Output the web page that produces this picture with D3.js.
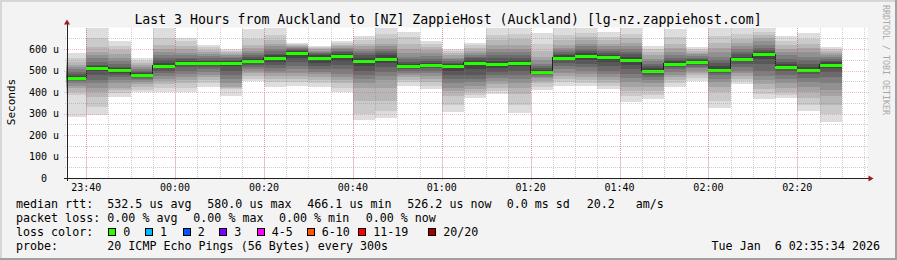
<!DOCTYPE html>
<html lang="en">
<head>
<meta charset="utf-8">
<title>SmokePing lg-nz.zappiehost.com</title>
<script src="https://cdn.jsdelivr.net/npm/d3@7"></script>
<style>
  body { margin: 0; background: #f3f3f3; }
  svg { display: block; font-family: "DejaVu Sans Mono", monospace; }
  text { white-space: pre; fill: #000; }
</style>
</head>
<body>
<div id="chart"></div>
<script>
// start time of each 5 min step
var times = ["23:35","23:40","23:45","23:50","23:55",
  "00:00","00:05","00:10","00:15","00:20","00:25","00:30","00:35","00:40","00:45","00:50","00:55",
  "01:00","01:05","01:10","01:15","01:20","01:25","01:30","01:35","01:40","01:45","01:50","01:55",
  "02:00","02:05","02:10","02:15","02:20","02:25"];

// median rtt in microseconds
var medians = [466,513,502,480,522,536,536,535,546,558,580,560,566,546,555,519,527,520,536,531,
  536,493,560,569,561,550,498,531,541,502,555,575,518,504,526];

// lost pings (of 20) per step
var losses = [0,0,0,0,0,0,0,0,0,0,0,0,0,0,0,0,0,0,0,0,0,0,0,0,0,0,0,0,0,0,0,0,0,0,0];

// 20 sorted ping times (us) per step
var pings = [
  [285,386,400,417,430,440,450,458,462,465,467,475,485,495,505,515,525,541,557,583],
  [293,330,378,400,417,440,456,480,500,510,516,522,526,540,557,570,587,611,650,699],
  [378,395,410,420,440,455,470,480,490,500,504,510,518,530,545,560,575,595,615,639],
  [399,410,425,435,445,455,462,470,475,479,482,487,493,500,508,515,525,535,545,560],
  [401,420,435,450,462,475,488,500,510,518,525,535,548,560,570,585,600,620,650,699],
  [401,420,440,455,470,485,500,515,525,533,538,545,552,560,570,582,600,615,635,653],
  [422,440,455,468,480,492,505,518,527,534,538,544,550,558,566,575,585,595,607,619],
  [383,414,418,425,440,460,480,500,520,532,538,543,550,557,563,570,578,585,592,600],
  [450,462,475,487,497,507,517,527,535,543,549,555,562,570,580,592,605,620,645,693],
  [422,445,460,475,488,500,512,525,540,553,563,570,578,590,600,612,625,640,665,698],
  [428,445,460,475,490,505,520,540,560,578,586,592,597,601,605,610,615,620,625,628],
  [422,440,455,470,483,495,507,520,535,550,565,572,578,583,588,593,598,603,608,613],
  [399,420,440,455,468,485,505,525,545,560,570,578,585,592,598,605,612,620,630,639],
  [270,300,360,420,440,460,480,500,520,540,550,560,570,580,590,600,612,625,640,661],
  [278,310,360,420,455,475,495,515,535,550,560,570,580,590,600,612,625,645,670,698],
  [428,445,458,470,480,490,500,508,514,519,523,530,540,552,565,580,600,625,655,681],
  [414,430,445,460,475,488,500,510,518,524,530,537,545,555,567,580,595,610,625,639],
  [306,340,380,405,420,440,460,480,500,515,522,530,537,545,553,560,570,580,590,598],
  [370,385,400,415,430,445,462,480,505,528,540,550,558,565,573,582,592,605,617,630],
  [392,405,420,435,450,465,480,495,512,527,535,545,557,570,585,600,620,640,665,698],
  [302,340,390,420,440,460,480,500,520,533,540,550,560,572,585,600,620,645,670,698],
  [410,425,440,452,463,472,480,486,490,493,496,502,510,520,532,548,565,590,625,675],
  [428,445,460,475,490,505,520,535,548,557,563,570,578,585,595,605,620,640,665,698],
  [428,442,455,470,485,500,515,530,550,565,572,580,590,600,612,625,640,655,675,698],
  [413,428,442,455,468,482,500,520,540,555,565,572,580,590,600,612,625,640,658,677],
  [355,380,405,425,445,465,485,505,525,545,555,565,575,587,600,615,630,650,672,698],
  [367,385,405,425,440,455,468,480,490,497,502,510,520,530,542,555,570,585,600,613],
  [425,440,455,468,480,492,505,515,523,529,535,542,550,560,572,588,605,625,655,692],
  [452,465,478,490,500,510,518,526,532,538,543,548,553,560,567,575,583,592,600,608],
  [324,360,400,425,445,462,478,490,498,502,508,520,535,550,565,585,605,630,660,698],
  [437,450,462,475,488,500,515,530,543,553,558,565,575,585,598,612,628,645,668,698],
  [367,390,415,435,455,475,500,530,555,572,578,585,595,605,620,635,650,665,680,698],
  [372,385,400,420,440,460,480,497,510,516,520,528,540,555,570,585,600,618,638,661],
  [312,340,370,400,425,445,465,485,497,503,506,515,530,548,565,585,605,625,648,673],
  [260,300,340,380,410,440,470,495,512,524,530,538,545,553,562,572,582,592,600,610]
];

var yMajor = [0,100,200,300,400,500,600];
var yMinor = [50,150,250,350,450,550,650];
var xLabels = ["23:40","00:00","00:20","00:40","01:00","01:20","01:40","02:00","02:20"];

var lossLabels = ["0","1","2","3","4-5","6-10","11-19","20/20"];
var lossColors = ["#26ff00","#00b8ff","#0059ff","#7e00ff","#ff00ff","#ff5500","#ff0000","#a10000"];
var lossLimits = [0,1,2,3,5,10,19,20];

var title = "Last 3 Hours from Auckland to [NZ] ZappieHost (Auckland) [lg-nz.zappiehost.com]";
var statsRtt = [["median rtt:", 16], ["532.5 us avg", 107.3], ["580.0 us max", 207.3],
  ["466.1 us min", 307.3], ["526.2 us now", 407.3], ["0.0 ms sd", 506.7], ["20.2   am/s", 586.7]];
var statsLoss = [["packet loss:", 16], ["0.00 % avg", 107.3], ["0.00 % max", 193.3],
  ["0.00 % min", 279], ["0.00 % now", 365.7]];
var lossBoxX = [108.3, 145, 182.7, 219.3, 256.7, 306.7, 358.3, 428.3];

var W = 897, H = 260;
var pLeft = 66.5, pRight = 866.5, pTop = 27.5, pBottom = 178;

function toDate(s) {
  var h = +s.slice(0, 2), m = +s.slice(3, 5);
  return new Date(Date.UTC(2026, 0, h >= 12 ? 5 : 6, h, m));
}
var tStart = new Date(Date.UTC(2026, 0, 5, 23, 35, 34));
var tEnd = new Date(Date.UTC(2026, 0, 6, 2, 35, 34));
var step = 5 * 60 * 1000;

var x = d3.scaleUtc().domain([tStart, tEnd]).range([pLeft, pRight]);
var y = d3.scaleLinear().domain([0, 700]).range([pBottom, pTop]);

var svg = d3.select("#chart").append("svg")
    .attr("width", W).attr("height", H);

// frame
svg.append("rect").attr("width", W).attr("height", H).attr("fill", "#f3f3f3");
svg.append("path").attr("d", "M0,0H" + W + "V2H2V" + H + "H0Z").attr("fill", "#d6d6d6");
svg.append("path").attr("d", "M" + W + ",0V" + H + "H0V" + (H - 2) + "H" + (W - 2) + "V0Z").attr("fill", "#a0a0a0");

svg.append("clipPath").attr("id", "plot")
  .append("rect").attr("x", pLeft).attr("y", pTop).attr("width", pRight - pLeft + 1).attr("height", pBottom - pTop);

svg.append("rect")
    .attr("x", pLeft).attr("y", pTop)
    .attr("width", pRight - pLeft + 1).attr("height", pBottom - pTop)
    .attr("fill", "#fff");

var data = times.map(function(t, i) {
  return { t: toDate(t), med: medians[i], loss: losses[i], p: pings[i] };
});

// smoke: band i spans ping i .. ping 21-i, lighter outside
var plot = svg.append("g").attr("clip-path", "url(#plot)").attr("shape-rendering", "crispEdges");
for (var i = 0; i < 10; i++) {
  var g = 221 - 19 * i;
  plot.selectAll(".smoke" + i)
    .data(data)
    .enter()
    .append("rect")
      .attr("class", "smoke" + i)
      .attr("x", function(d) { return x(d.t) })
      .attr("width", function(d) { return x(new Date(+d.t + step)) - x(d.t) })
      .attr("y", function(d) { return y(d.p[19 - i]) })
      .attr("height", function(d) { return y(d.p[i]) - y(d.p[19 - i]) })
      .attr("fill", d3.rgb(g, g, g));
}

// median
var stepPts = data.map(function(d) { return [x(d.t), y(d.med)] });
stepPts.push([x(new Date(+data[data.length - 1].t + step)), y(data[data.length - 1].med)]);
plot.append("path")
    .attr("d", d3.line().curve(d3.curveStepAfter)(stepPts))
    .attr("fill", "none")
    .attr("stroke", "#202020")
    .attr("stroke-width", 1);

function lossColor(n) {
  for (var k = 0; k < lossLimits.length; k++) if (n <= lossLimits[k]) return lossColors[k];
  return lossColors[lossColors.length - 1];
}
plot.selectAll(".med")
    .data(data)
    .enter()
    .append("rect")
      .attr("class", "med")
      .attr("x", function(d) { return x(d.t) })
      .attr("width", function(d) { return x(new Date(+d.t + step)) - x(d.t) })
      .attr("y", function(d) { return Math.round(y(d.med)) - 1 })
      .attr("height", 3)
      .attr("fill", function(d) { return lossColor(d.loss) });

// grid
var grid = svg.append("g").attr("shape-rendering", "crispEdges");
var minorTimes = d3.utcMinute.every(5).range(tStart, tEnd);
var majorTimes = d3.utcMinute.every(20).range(tStart, tEnd);
var minorColor = "rgba(128,128,128,0.38)", majorColor = "rgba(225,70,70,0.36)";
grid.selectAll(".vmin")
    .data(minorTimes)
    .enter()
    .append("line")
      .attr("x1", function(d) { return Math.round(x(d)) + 0.5 })
      .attr("x2", function(d) { return Math.round(x(d)) + 0.5 })
      .attr("y1", pTop).attr("y2", pBottom + 2)
      .attr("stroke", minorColor)
      .attr("stroke-dasharray", "1,1");
grid.selectAll(".hmin")
    .data(yMinor)
    .enter()
    .append("line")
      .attr("x1", pLeft - 2).attr("x2", pRight + 2)
      .attr("y1", function(d) { return Math.round(y(d)) + 0.5 })
      .attr("y2", function(d) { return Math.round(y(d)) + 0.5 })
      .attr("stroke", minorColor)
      .attr("stroke-dasharray", "1,1");
grid.selectAll(".vmaj")
    .data(majorTimes)
    .enter()
    .append("line")
      .attr("x1", function(d) { return Math.round(x(d)) + 0.5 })
      .attr("x2", function(d) { return Math.round(x(d)) + 0.5 })
      .attr("y1", pTop).attr("y2", pBottom + 3)
      .attr("stroke", majorColor)
      .attr("stroke-dasharray", "1,1");
grid.selectAll(".hmaj")
    .data(yMajor.slice(1))
    .enter()
    .append("line")
      .attr("x1", pLeft - 3).attr("x2", pRight + 2)
      .attr("y1", function(d) { return Math.round(y(d)) + 0.5 })
      .attr("y2", function(d) { return Math.round(y(d)) + 0.5 })
      .attr("stroke", majorColor)
      .attr("stroke-dasharray", "1,1");

// axes
svg.append("line").attr("x1", pLeft - 3).attr("x2", pRight + 2).attr("y1", pBottom + 0.5).attr("y2", pBottom + 0.5)
    .attr("stroke", "#222").attr("shape-rendering", "crispEdges");
svg.append("line").attr("x1", pLeft + 0.5).attr("x2", pLeft + 0.5).attr("y1", pBottom + 3).attr("y2", pTop - 4)
    .attr("stroke", "#222").attr("shape-rendering", "crispEdges");
svg.append("path").attr("d", "M" + (pLeft - 2.5) + "," + (pTop - 3) + "L" + (pLeft + 0.5) + "," + (pTop - 8) + "L" + (pLeft + 3.5) + "," + (pTop - 3) + "Z")
    .attr("fill", "#9b1c1c");
svg.append("path").attr("d", "M" + (pRight + 2) + "," + (pBottom - 2.5) + "L" + (pRight + 7) + "," + (pBottom + 0.5) + "L" + (pRight + 2) + "," + (pBottom + 3.5) + "Z")
    .attr("fill", "#9b1c1c");

// axis labels
svg.selectAll(".ylab")
    .data(yMajor)
    .enter()
    .append("text")
      .attr("x", 59)
      .attr("y", function(d) { return y(d) })
      .attr("dy", "0.36em")
      .attr("text-anchor", "end")
      .style("font-size", "10px")
      .text(function(d) { return d === 0 ? "0  " : d + " u" });

svg.selectAll(".xlab")
    .data(xLabels)
    .enter()
    .append("text")
      .attr("x", function(d) { return x(toDate(d)) })
      .attr("y", 190.5)
      .attr("text-anchor", "middle")
      .style("font-size", "10px")
      .text(function(d) { return d });

svg.append("text")
    .attr("transform", "translate(15,102) rotate(-90)")
    .attr("text-anchor", "middle")
    .style("font-size", "11px")
    .text("Seconds");

svg.append("text")
    .attr("x", 448).attr("y", 23.5)
    .attr("text-anchor", "middle")
    .style("font-size", "13.2px")
    .text(title);

svg.append("text")
    .attr("transform", "translate(883,5) rotate(90)")
    .style("font-size", "8.3px")
    .style("fill", "#a8a8a8")
    .text("RRDTOOL / TOBI OETIKER");

// legend
var leg = svg.append("g").style("font-size", "11.66px");
leg.selectAll(".rtt").data(statsRtt).enter().append("text")
    .attr("x", function(d) { return d[1] }).attr("y", 207.5).text(function(d) { return d[0] });
leg.selectAll(".pl").data(statsLoss).enter().append("text")
    .attr("x", function(d) { return d[1] }).attr("y", 221.5).text(function(d) { return d[0] });
leg.append("text").attr("x", 16).attr("y", 235.5).text("loss color:");
leg.selectAll(".lbox").data(lossLabels).enter().append("rect")
    .attr("x", function(d, i) { return lossBoxX[i] + 0.5 })
    .attr("y", 228.5).attr("width", 7).attr("height", 7)
    .attr("fill", function(d, i) { return lossColors[i] })
    .attr("stroke", "#000").attr("shape-rendering", "crispEdges");
leg.selectAll(".llab").data(lossLabels).enter().append("text")
    .attr("x", function(d, i) { return lossBoxX[i] + 15 })
    .attr("y", 235.5).text(function(d) { return d });
leg.append("text").attr("x", 16).attr("y", 249.5).text("probe:");
leg.append("text").attr("x", 107.3).attr("y", 249.5).text("20 ICMP Echo Pings (56 Bytes) every 300s");
leg.append("text").attr("x", 880).attr("y", 249.5).attr("text-anchor", "end").text("Tue Jan  6 02:35:34 2026");
</script>
</body>
</html>
